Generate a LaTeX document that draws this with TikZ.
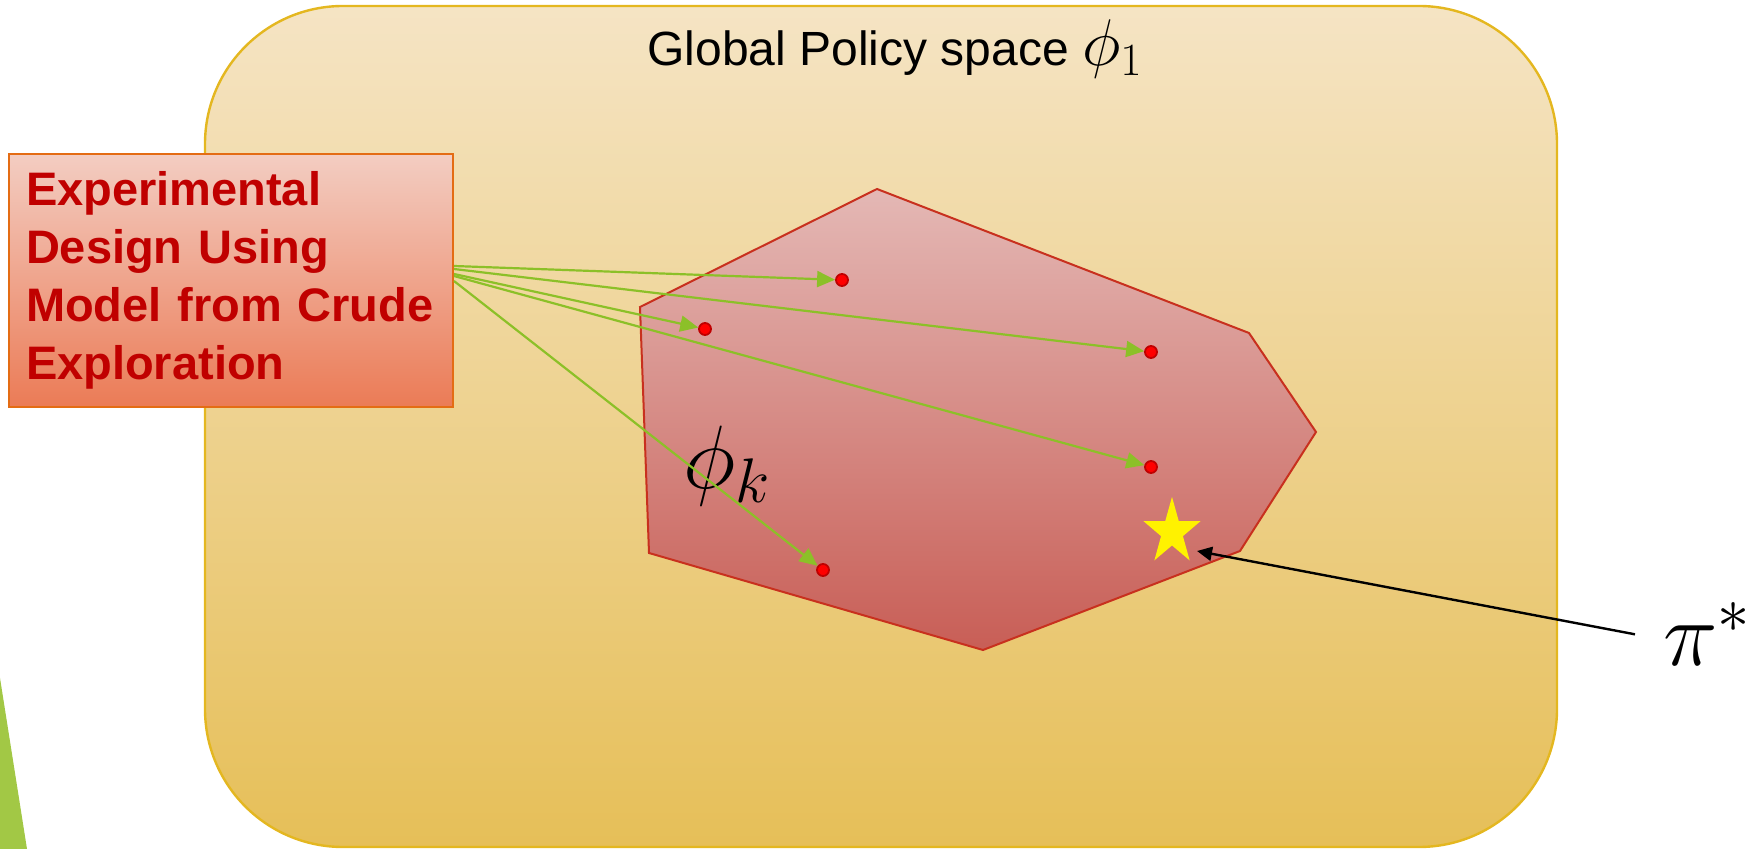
\documentclass[tikz,border=0pt]{standalone}
\usepackage{fix-cm}
\usepackage{fontspec}
\setmainfont{Liberation Sans}
\usetikzlibrary{arrows.meta}

\definecolor{spaceTop}{RGB}{245,228,196}
\definecolor{spaceBottom}{RGB}{230,191,88}
\definecolor{spaceEdge}{RGB}{228,183,32}
\definecolor{regionTop}{RGB}{228,184,181}
\definecolor{regionBottom}{RGB}{200,94,86}
\definecolor{regionEdge}{RGB}{200,48,30}
\definecolor{boxTop}{RGB}{243,205,194}
\definecolor{boxBottom}{RGB}{235,123,86}
\definecolor{boxEdge}{RGB}{228,108,20}
\definecolor{boxText}{RGB}{192,0,0}
\definecolor{linkGreen}{RGB}{140,192,40}
\definecolor{leafGreen}{RGB}{162,200,69}

\tikzset{
  dot/.style={circle, draw=red!75!black, fill=red, line width=0.9pt, inner sep=0pt, minimum size=6pt},
  link/.style={draw=linkGreen, line width=1.1pt, -{Triangle[length=9pt,width=8pt]}}
}

\begin{document}
\begin{tikzpicture}[x=0.5pt, y=-0.5pt]
    \useasboundingbox (0,0) rectangle (1752,849);
    % Corner leaf
    \fill[leafGreen] (0,678) -- (27,849) -- (0,849) -- cycle;
    % Global space
    \draw[draw=spaceEdge, line width=1.2pt, rounded corners=69pt, top color=spaceTop, bottom color=spaceBottom] (205,6) rectangle (1557,847);
    \node[anchor=base] (title) at (895,66) {\fontsize{24}{28}\selectfont Global Policy space {\fontsize{33}{38}\selectfont$\phi_1$}};
    % Local region
    \draw[draw=regionEdge, line width=1pt, top color=regionTop, bottom color=regionBottom] (640,307) -- (877,189) -- (1249,333) -- (1316,432) -- (1240,551) -- (983,650) -- (649,553) -- cycle;
    \node[anchor=base west, inner sep=0pt] (phik) at (683,489) {\fontsize{45}{50}\selectfont$\phi_k$};
    % Optimum
    \coordinate (opt) at (1172,532);
    \fill[yellow, shift={(opt)}, yscale=1.17] (-90:30) \foreach \a in {-54,18,90,162,234} { -- (\a:11.5) -- (\a+36:30)} -- cycle;
    % Design box
    \node[anchor=north west, draw=boxEdge, line width=1pt, top color=boxTop, bottom color=boxBottom,
          text=boxText, font={\bfseries\fontsize{23.5}{29}\selectfont}, text width=205pt, inner xsep=8.5pt,
          minimum height=126.5pt, align=left] (design) at (8,153) {Experimental\\Design Using\\Model from Crude\\Exploration};
    % Sample points
    \node[dot] (d1) at (842,280) {};
    \node[dot] (d2) at (705,329) {};
    \node[dot] (d3) at (1151,352) {};
    \node[dot] (d4) at (1151,467) {};
    \node[dot] (d5) at (823,570) {};
    \draw[link] ([yshift=7.25pt]design.east) -- (d1);
    \draw[link] ([yshift=5.75pt]design.east) -- (d3);
    \draw[link] ([yshift=3.25pt]design.east) -- (d2);
    \draw[link] ([yshift=2.25pt]design.east) -- (d4);
    \draw[link] ([yshift=-0.25pt]design.east) -- (d5);
    % Label
    \node[anchor=base west, inner xsep=14pt, inner ysep=0pt] (pistar) at (1635,666) {\fontsize{46}{50}\selectfont$\pi^*$};
    \draw[line width=1.2pt, -{Triangle[length=7.5pt,width=7pt]}] (pistar.west) -- ([shift={(25,19)}]opt);
\end{tikzpicture}
\end{document}
